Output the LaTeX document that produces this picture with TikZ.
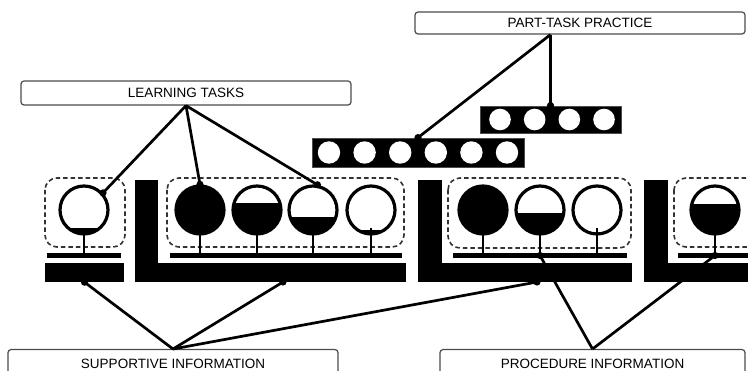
\documentclass[tikz,border=0pt]{standalone}
\usepackage{fontspec}
\setmainfont{Liberation Sans}
\newcommand\mytank[3]{%
  \begin{scope}
    \clip (#2,210) circle (24);
    \fill (#2-30,#3) rectangle (#2+30,240);
  \end{scope}
  \draw[stem] (#2,228) -- (#2,253);
  \node[tankc] (#1) at (#2,210) {};
}
\begin{document}
\begin{tikzpicture}[x=1pt,y=-1pt,
  lbl/.style={draw=black!70, line width=1.2pt, rounded corners=3pt, fill=white, inner sep=0pt, font=\fontsize{13.5}{15}\selectfont},
  grp/.style={draw=black!80, line width=1.6pt, dash pattern=on 4.5pt off 3pt, rounded corners=12pt},
  tankc/.style={circle, draw=black, line width=3.2pt, minimum size=48pt, inner sep=0pt},
  stem/.style={line width=2.8pt},
  bar/.style={fill=black, draw=none, inner sep=0pt, rectangle},
  strip/.style={fill=black, draw=black!70, line width=0.8pt, inner sep=0pt, rectangle},
  conn/.style={line width=2.7pt},
]
\useasboundingbox (0,0) rectangle (748,371);
\clip (0,0) rectangle (748,371);

% dashed groups
\draw[grp] (45,178) rectangle (125,247);
\draw[grp] (167,178) rectangle (404,247);
\draw[grp] (448,178) rectangle (631,248);
\draw[grp] (674,178) rectangle (775,247);

% thin bars
\node[bar, minimum width=74pt, minimum height=5pt] (t0) at (84,255.5) {};
\node[bar, minimum width=232pt, minimum height=5pt] (t1) at (286,255.5) {};
\node[bar, minimum width=174pt, minimum height=5pt] (t2) at (540,255.5) {};
\node[bar, minimum width=92pt, minimum height=5pt] (t3) at (724,255.5) {};

% thick bars and L shapes
\node[bar, minimum width=79pt, minimum height=19pt] (b0) at (84.5,272.5) {};
\node[bar, minimum width=271pt, minimum height=19pt] (h1) at (270.5,272.5) {};
\node[bar, minimum width=214pt, minimum height=19pt] (h2) at (525,272.5) {};
\node[bar, minimum width=126pt, minimum height=19pt] (h3) at (707,272.5) {};
\fill (135,180) rectangle (158,264);
\fill (418,180) rectangle (442,264);
\fill (644,180) rectangle (668,264);

% tanks
\mytank{c0}{84}{228}
\mytank{c1}{200}{180}
\mytank{c2}{257}{203}
\mytank{c3}{313}{217}
\mytank{c4}{371}{230}
\mytank{c5}{483}{180}
\mytank{c6}{540}{213}
\mytank{c7}{597}{240}
\mytank{c8}{715}{204}

% part-task strips
\node[strip, minimum width=141pt, minimum height=27pt] (s4) at (550.5,119.5) {};
\foreach \i in {0,...,3} \fill[white] (500+34.67*\i,119.5) circle (10.8);
\node[strip, minimum width=212pt, minimum height=29pt] (s6) at (418,152.5) {};
\foreach \i in {0,...,5} \fill[white] (329+35.6*\i,152.5) circle (11.2);

% labels
\node[lbl, minimum width=330pt, minimum height=24pt] (lt) at (186,93) {LEARNING TASKS};
\node[lbl, minimum width=330pt, minimum height=22pt] (pt) at (580,23) {PART-TASK PRACTICE};
\node[lbl, minimum width=330pt, minimum height=28pt, anchor=north] (si) at (173,349) {SUPPORTIVE INFORMATION};
\node[lbl, minimum width=305pt, minimum height=28pt, anchor=north] (pi) at (592.5,349) {PROCEDURE INFORMATION};

\coordinate (sA) at (283,282);
\coordinate (sB) at (537,282);
\coordinate (pA) at (c6 |- t2);
\coordinate (pB) at (c8 |- t3);
\coordinate (ptA) at (s4.north |- pt.south);

% connectors
\draw[conn] (lt.south) -- (c0.42);
\draw[conn] (lt.south) -- (c1.north);
\draw[conn] (lt.south) -- (c3.80);
\draw[conn] (ptA) -- (s4.north);
\draw[conn] (ptA) -- (s6.north);
\draw[conn] (si.north) -- (b0.south);
\draw[conn] (si.north) -- (sA);
\draw[conn] (si.north) -- (sB);
\draw[conn] (pi.north) -- (pA);
\draw[conn] (pi.north) -- (pB);
\foreach \p in {c0.42, c1.north, c3.80, s4.north, s6.north, b0.south, sA, sB, pA, pB}
  \fill (\p) circle (3.6);
\end{tikzpicture}
\end{document}
